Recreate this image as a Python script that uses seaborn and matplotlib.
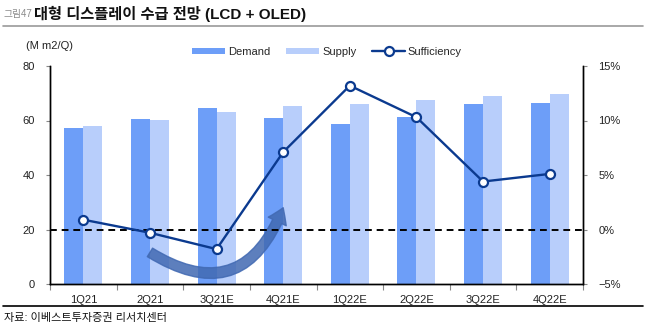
import matplotlib
matplotlib.use("Agg")
import matplotlib.pyplot as plt
import seaborn as sns
import pandas as pd
from matplotlib.patches import Patch
from matplotlib.lines import Line2D
from matplotlib.ticker import FuncFormatter, FixedLocator

quarters = ["1Q21", "2Q21", "3Q21E", "4Q21E", "1Q22E", "2Q22E", "3Q22E", "4Q22E"]
demand = [57.4, 60.4, 64.5, 60.9, 58.6, 61.3, 66.2, 66.3]
supply = [58.0, 60.2, 63.3, 65.3, 66.2, 67.5, 69.1, 69.7]
sufficiency = [0.9, -0.3, -1.8, 7.1, 13.2, 10.3, 4.4, 5.1]

DEMAND_C = "#6d9ef8"
SUPPLY_C = "#b8cefb"
LINE_C = "#0b3a8f"

sns.set_theme(style="white")
plt.rcParams["font.family"] = ["Liberation Sans", "Noto Sans CJK KR", "DejaVu Sans"]

bars = pd.DataFrame({
    "quarter": quarters * 2,
    "value": demand + supply,
    "series": ["Demand"] * len(quarters) + ["Supply"] * len(quarters),
})
line = pd.DataFrame({"quarter": quarters, "suff": sufficiency})

fig = plt.figure(figsize=(6.46, 3.30), dpi=100)
ax = fig.add_axes([50/646, 46/330, (583-50)/646, 218/330])

sns.barplot(data=bars, x="quarter", y="value", hue="series", order=quarters,
            palette=[DEMAND_C, SUPPLY_C], width=0.57, gap=0, saturation=1,
            legend=False, ax=ax, edgecolor="none")
ax.set_ylim(0, 80)
ax.set_yticks([0, 20, 40, 60, 80])
ax.set_xlim(-0.5, len(quarters) - 0.5)
ax.set_xlabel("")
ax.set_ylabel("")

ax2 = ax.twinx()
ax2.axhline(0, color="black", ls=(0, (3.5, 2.5)), lw=1.4, zorder=2)
sns.pointplot(data=line, x="quarter", y="suff", order=quarters, ax=ax2,
              color=LINE_C, markers="o", errorbar=None, linewidth=1.7,
              markersize=6.5, markerfacecolor="white", markeredgecolor=LINE_C,
              markeredgewidth=1.6)
ax2.set_ylim(-5, 15)
ax2.set_yticks([-5, 0, 5, 10, 15])
ax2.yaxis.set_major_formatter(FuncFormatter(lambda v, p: f"{int(v)}%".replace("-", "\u2212")))
ax2.set_xlim(-0.5, len(quarters) - 0.5)
ax2.set_ylabel("")
ax2.set_xlabel("")

# curved arrow decoration
ax2.annotate("", xy=(3.0, 2.0), xytext=(1.0, -2.1),
             arrowprops=dict(arrowstyle="simple,head_width=1.2,head_length=0.9,tail_width=0.6",
                             connectionstyle="arc3,rad=0.6", color="#4169b2",
                             shrinkA=0, shrinkB=0, alpha=0.85), zorder=1)

for a in (ax, ax2):
    a.spines["top"].set_visible(False)
    for s in ("left", "right", "bottom"):
        a.spines[s].set_color("black")
        a.spines[s].set_linewidth(1.0)

ax.tick_params(axis="y", which="major", length=3, width=0.8, color="#888888",
               labelsize=8, pad=8, left=True, direction="out", labelcolor="#222222")
ax2.tick_params(axis="y", which="major", length=3, width=0.8, color="#888888",
                labelsize=8, pad=8, right=True, direction="out", labelcolor="#222222")
ax.set_xticks(range(len(quarters)))
ax.set_xticklabels(quarters)
ax.xaxis.set_minor_locator(FixedLocator([i - 0.5 for i in range(len(quarters) + 1)]))
ax.tick_params(axis="x", which="major", length=0, labelsize=8, pad=8, labelcolor="#222222")
ax.tick_params(axis="x", which="minor", length=4, width=0.8, color="#888888", bottom=True, direction="out")
ax2.tick_params(axis="x", which="both", length=0)

# legend
handles = [
    Patch(facecolor=DEMAND_C, edgecolor="none", label="Demand"),
    Patch(facecolor=SUPPLY_C, edgecolor="none", label="Supply"),
    Line2D([0], [0], color=LINE_C, lw=1.7, marker="o", markersize=6.5,
           markerfacecolor="white", markeredgecolor=LINE_C, markeredgewidth=1.6,
           label="Sufficiency"),
]
fig.legend(handles=handles, loc="center", bbox_to_anchor=(327/646, 1 - 52/330),
           ncol=3, frameon=False, fontsize=8, handlelength=3.0, handleheight=0.5,
           columnspacing=1.4, handletextpad=0.25)

# title, unit, source
fig.text(3/646, 1 - 14/330, "그림47", fontsize=7, color="#8a8a8a", va="center", ha="left")
fig.text(34/646, 1 - 14/330, "대형 디스플레이 수급 전망 (LCD + OLED)", fontsize=11,
         fontweight="bold", color="#111111", va="center", ha="left")
fig.add_artist(Line2D([3/646, 643/646], [1 - 26/330, 1 - 26/330], color="#9a9a9a", lw=1.2))
fig.text(26/646, 1 - 46/330, "(M m2/Q)", fontsize=8, color="#222222", va="center", ha="left")
fig.add_artist(Line2D([3/646, 643/646], [1 - 306/330, 1 - 306/330], color="black", lw=1.2))
fig.text(4/646, 1 - 318/330, "자료: 이베스트투자증권 리서치센터", fontsize=8, color="#111111",
         va="center", ha="left")

fig.savefig("out.png", dpi=100)
